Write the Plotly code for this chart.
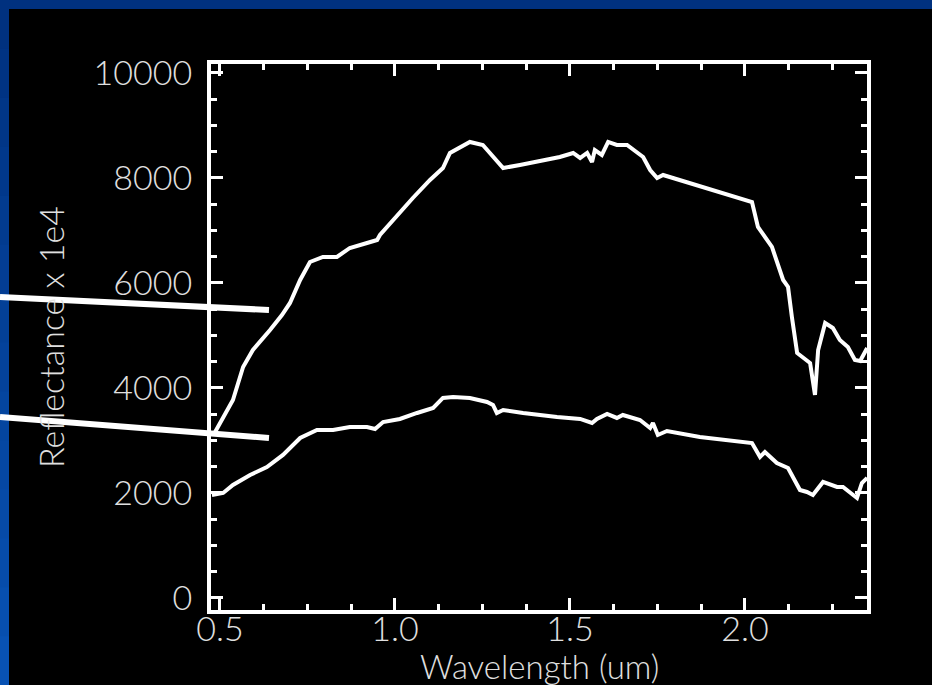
import plotly.graph_objects as go

# ---------------- data ----------------
upper_wl = [0.486, 0.537, 0.566, 0.594, 0.643, 0.677, 0.700, 0.729, 0.757, 0.794,
            0.834, 0.871, 0.920, 0.949, 0.957, 1.006, 1.051, 1.100, 1.137, 1.157,
            1.186, 1.214, 1.251, 1.280, 1.309, 1.357, 1.471, 1.509, 1.529, 1.549,
            1.563, 1.571, 1.591, 1.609, 1.634, 1.663, 1.691, 1.709, 1.729, 1.749,
            1.766, 1.929, 2.020, 2.037, 2.077, 2.109, 2.123, 2.134, 2.149, 2.186,
            2.200, 2.209, 2.229, 2.251, 2.271, 2.294, 2.314, 2.329, 2.349]
upper_refl = [3162, 3771, 4400, 4724, 5105, 5390, 5619, 6057, 6400, 6495,
              6495, 6667, 6762, 6819, 6914, 7295, 7619, 7962, 8190, 8476,
              8590, 8686, 8629, 8400, 8190, 8248, 8400, 8476, 8381, 8476,
              8305, 8533, 8438, 8686, 8629, 8629, 8476, 8400, 8152, 8000,
              8057, 7733, 7543, 7067, 6686, 6057, 5924, 5352, 4667, 4476,
              3867, 4724, 5238, 5143, 4914, 4781, 4533, 4514, 4762]

lower_wl = [0.477, 0.509, 0.537, 0.586, 0.634, 0.680, 0.729, 0.777, 0.823, 0.871,
            0.920, 0.943, 0.966, 1.014, 1.063, 1.109, 1.137, 1.166, 1.214, 1.263,
            1.280, 1.291, 1.309, 1.366, 1.463, 1.529, 1.563, 1.577, 1.606, 1.634,
            1.651, 1.700, 1.729, 1.737, 1.751, 1.777, 1.871, 2.020, 2.043, 2.057,
            2.091, 2.123, 2.157, 2.177, 2.194, 2.223, 2.263, 2.280, 2.320, 2.334,
            2.349]
lower_refl = [1962, 2000, 2152, 2343, 2495, 2724, 3048, 3200, 3200, 3257,
              3257, 3219, 3352, 3410, 3524, 3619, 3810, 3829, 3810, 3733,
              3676, 3524, 3581, 3524, 3448, 3410, 3333, 3410, 3505, 3429,
              3486, 3390, 3238, 3333, 3105, 3181, 3067, 2952, 2686, 2781,
              2571, 2476, 2057, 2019, 1962, 2210, 2114, 2114, 1905, 2190,
              2286]

x_tickvals = [0.5, 1.0, 1.5, 2.0]
x_ticktext = ["0.5", "1.0", "1.5", "2.0"]
y_tickvals = [0, 2000, 4000, 6000, 8000, 10000]
y_ticktext = ["0", "2000", "4000", "6000", "8000", "10000"]

x_title = "Wavelength (um)"
y_title = "Reflectance x 1e4"

# ---------------- layout geometry ----------------
W, H = 932, 685
L, R, T, B = 211, 867, 64, 610   # plot area in pixels


def px(xp):
    return (xp - L) / (R - L)


def py(yp):
    return (B - yp) / (B - T)


FONT = dict(family="Lato, Roboto, DejaVu Sans, sans-serif", size=34, color="#e0e0e0", weight=300)

fig = go.Figure()
for xs, ys in ((upper_wl, upper_refl), (lower_wl, lower_refl)):
    fig.add_trace(go.Scatter(x=xs, y=ys, mode="lines",
                             line=dict(color="white", width=4),
                             showlegend=False, hoverinfo="skip"))

shapes = []
# blue frame: top strip and graded left strip
shapes.append(dict(type="rect", xref="paper", yref="paper", layer="below",
                   x0=px(0), x1=px(W), y0=py(0), y1=py(9),
                   fillcolor="#00317f", line=dict(width=0)))
n = 14
for i in range(n):
    y0p = i * H / n
    y1p = (i + 1) * H / n
    t = i / (n - 1)
    r_, g_, b_ = int(0 + 8 * t), int(0x31 + (0x52 - 0x31) * t), int(0x7f + (0xb4 - 0x7f) * t)
    shapes.append(dict(type="rect", xref="paper", yref="paper", layer="below",
                       x0=px(0), x1=px(9), y0=py(y0p), y1=py(y1p + 1),
                       fillcolor=f"rgb({r_},{g_},{b_})", line=dict(width=0)))
# pointer lines
for (xa, ya, xb, yb) in ((0, 297, 269, 310), (0, 417, 269, 438)):
    shapes.append(dict(type="line", xref="paper", yref="paper", layer="above",
                       x0=px(xa), y0=py(ya), x1=px(xb), y1=py(yb),
                       line=dict(color="white", width=6)))

axis_common = dict(showline=True, linecolor="white", linewidth=4, mirror="allticks",
                   ticks="inside", tickcolor="white", tickwidth=3, ticklen=12,
                   showgrid=False, zeroline=False, tickfont=FONT)

fig.update_layout(
    width=W, height=H,
    margin=dict(l=L, r=W - R, t=T, b=H - B, pad=0),
    paper_bgcolor="black", plot_bgcolor="black",
    xaxis=dict(range=[0.4743, 2.3486], tickmode="array", tickvals=x_tickvals,
               ticktext=x_ticktext, ticklabelstandoff=-14,
               minor=dict(dtick=0.125, tick0=0.5, ticks="inside", ticklen=6,
                          tickwidth=3, tickcolor="white", showgrid=False),
               **axis_common),
    yaxis=dict(range=[-229, 10171], tickmode="array", tickvals=y_tickvals,
               ticktext=y_ticktext, ticklabelstandoff=8,
               minor=dict(dtick=500, tick0=0, ticks="inside", ticklen=6,
                          tickwidth=3, tickcolor="white", showgrid=False),
               **axis_common),
    shapes=shapes,
    annotations=[
        dict(text=x_title, xref="paper", yref="paper", x=px(539), y=py(666),
             xanchor="center", yanchor="middle", showarrow=False,
             font=dict(FONT, size=33)),
        dict(text=y_title, xref="paper", yref="paper", x=px(50), y=py(337),
             xanchor="center", yanchor="middle", showarrow=False, textangle=-90,
             font=FONT),
    ],
)

fig.write_html(
    "out.html",
    config={"displayModeBar": False},
    post_script="document.body.style.margin='0px';document.body.style.overflow='hidden';",
)
